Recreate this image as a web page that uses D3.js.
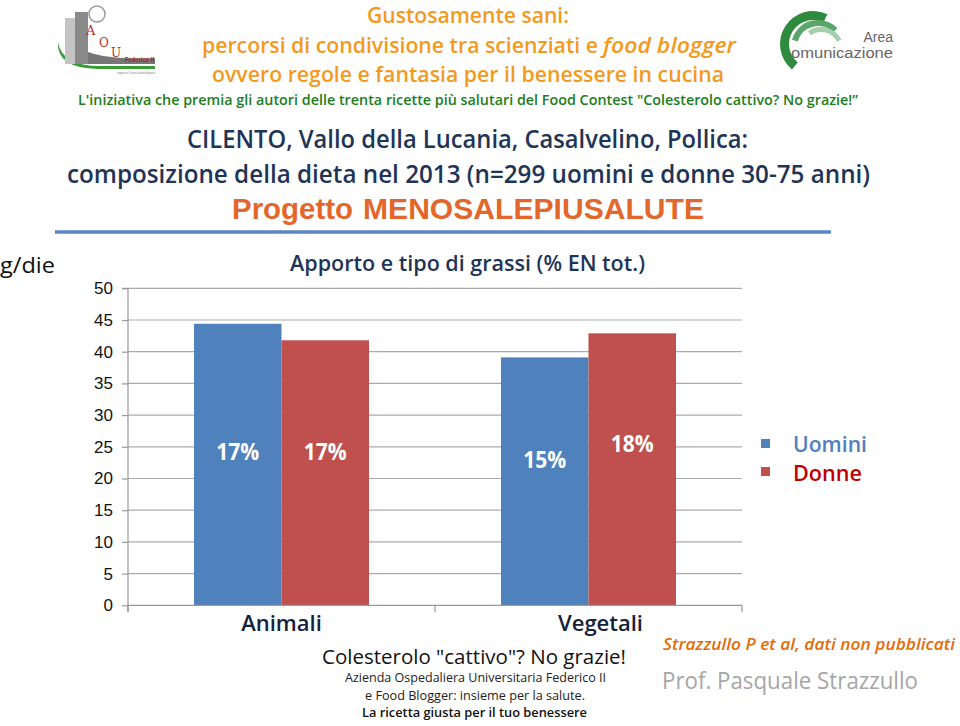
<!DOCTYPE html>
<html><head><meta charset="utf-8">
<script src="https://cdn.jsdelivr.net/npm/d3@7/dist/d3.min.js"></script>
<style>body{margin:0;background:#fff}svg{display:block}</style>
</head><body>
<svg id="c" width="960" height="726"></svg>
<script>
// ---- data ----
const categories = ["Animali", "Vegetali"];
const seriesNames = ["Uomini", "Donne"];
const uomini = [44.4, 39.1];
const donne = [41.8, 42.9];
const pctUomini = ["17%", "15%"];
const pctDonne = ["17%", "18%"];
const yTicks = [0, 5, 10, 15, 20, 25, 30, 35, 40, 45, 50];

const svg = d3.select("#c");
const cal = "'Open Sans', 'Noto Sans', sans-serif";
const arial = "'Liberation Sans', Arial, sans-serif";

function txt(x, y, s, o) {
  const t = svg.append("text")
    .attr("x", x).attr("y", y).text(s)
    .attr("font-family", o.font || cal)
    .attr("font-size", o.size)
    .attr("font-weight", o.weight || "normal")
    .attr("font-style", o.style || "normal")
    .attr("fill", o.fill || "#000")
    .attr("dominant-baseline", "central");
  if (o.w) t.attr("textLength", o.w).attr("lengthAdjust", "spacingAndGlyphs");
  if (o.anchor) t.attr("text-anchor", o.anchor);
  return t;
}

// ---- header ----
const orange = "#f39a1e";
txt(367, 15, "Gustosamente sani:", {size: 21, weight: 600, fill: orange, w: 202});
txt(202, 45, "percorsi di condivisione tra scienziati e ", {size: 21, weight: 600, fill: orange, w: 396});
txt(603, 45, "food blogger", {size: 21, weight: 600, style: "italic", fill: orange, w: 133});
txt(212, 74, "ovvero regole e fantasia per il benessere in cucina", {size: 21, weight: 600, fill: orange, w: 512});
txt(78, 99, "L'iniziativa che premia gli autori delle trenta ricette più salutari del Food Contest \"Colesterolo cattivo? No grazie!\u201D", {size: 14.5, weight: 600, fill: "#1e7d1e", w: 780});

// left logo (simplified)
const lg = svg.append("g");
lg.append("path").attr("d", "M58,42 Q62,66 100,66 L155,66 L155,69 L98,69 Q56,68 58,42 Z").attr("fill", "#3a9a3a");
lg.append("rect").attr("x", 65).attr("y", 18).attr("width", 10).attr("height", 46).attr("fill", "#c4c4c4");
lg.append("rect").attr("x", 75).attr("y", 12).attr("width", 13).attr("height", 52).attr("fill", "#8a8a8a");
lg.append("path").attr("d", "M88,52 Q110,60 155,58 L155,64 L88,64 Z").attr("fill", "#777");
lg.append("circle").attr("cx", 97).attr("cy", 14).attr("r", 8).attr("fill", "none").attr("stroke", "#999").attr("stroke-width", 1.5);
txt(86, 30, "A", {size: 13, fill: "#b03030", font: "'DejaVu Serif', serif"});
txt(99, 43, "O", {size: 12, fill: "#b03030", font: "'DejaVu Serif', serif"});
txt(111, 53, "U", {size: 12, fill: "#b03030", font: "'DejaVu Serif', serif"});
txt(125, 59, "Federico II", {size: 8, weight: "bold", fill: "#a02828", font: arial, w: 29});
txt(117, 73, "Integrata con il Servizio Sanitario Regionale", {size: 3, fill: "#777", font: arial, w: 38});

// right logo (simplified)
const arcG = d3.arc();
const rg = svg.append("g").attr("transform", "translate(813,44)");
rg.append("path").attr("d", arcG({innerRadius: 24, outerRadius: 33, startAngle: -2.45, endAngle: 0.45})).attr("fill", "#2e8b3e");
rg.append("path").attr("transform", "translate(5,3)").attr("d", arcG({innerRadius: 21, outerRadius: 27, startAngle: -1.3, endAngle: 0.8})).attr("fill", "#5aa66a");
rg.append("path").attr("transform", "translate(8,6)").attr("d", arcG({innerRadius: 18, outerRadius: 23, startAngle: -0.6, endAngle: 1.1})).attr("fill", "#a4cfac");
txt(893, 37, "Area", {size: 14, fill: "#666", font: arial, anchor: "end"});
txt(791, 53, "omunicazione", {size: 14, fill: "#666", font: arial, w: 102});

// ---- titles ----
const navy = "#1f3557";
txt(187, 138, "CILENTO, Vallo della Lucania, Casalvelino, Pollica:", {size: 26, weight: 600, fill: navy, w: 561});
txt(67, 173, "composizione della dieta nel 2013  (n=299 uomini e donne 30-75 anni)", {size: 26, weight: 600, fill: navy, w: 803});
txt(232, 208, "Progetto", {size: 30, weight: "bold", fill: "#e3672a", font: arial, w: 121});
txt(363, 208, "MENOSALEPIUSALUTE", {size: 30, weight: "bold", fill: "#e3672a", font: arial, w: 341});
svg.append("line").attr("x1", 55).attr("x2", 831).attr("y1", 232).attr("y2", 232)
  .attr("stroke", "#5b86c0").attr("stroke-width", 3.5);

txt(0, 264, "g/die", {size: 22, fill: "#111", w: 55});
txt(290, 263, "Apporto e tipo di grassi (% EN tot.)", {size: 21, weight: 600, fill: navy, w: 355});

// ---- chart ----
const x0 = d3.scaleBand().domain(categories).range([128, 742]).paddingInner(0).paddingOuter(0);
const x1 = d3.scaleBand().domain(seriesNames).range([0, x0.bandwidth()]).paddingInner(0).paddingOuter(0.754);
const y = d3.scaleLinear().domain([0, 50]).range([605.3, 288.3]);
const colors = {Uomini: "#4f81bd", Donne: "#c0504d"};

// gridlines
svg.append("g").selectAll("line").data(yTicks.filter(d => d > 0)).join("line")
  .attr("x1", 128).attr("x2", 742).attr("y1", d => y(d)).attr("y2", d => y(d))
  .attr("stroke", "#ababab").attr("stroke-width", 1.2);

// y axis
const yAxis = d3.axisLeft(y).tickValues(yTicks).tickSize(6).tickPadding(9);
const ya = svg.append("g").attr("transform", "translate(128,0)").call(yAxis);
ya.select(".domain").attr("stroke", "#999").attr("stroke-width", 1.2).attr("d", "M-6,288.3H0V612");
ya.selectAll(".tick line").attr("stroke", "#999").attr("stroke-width", 1.2);
ya.selectAll(".tick text").attr("font-family", arial).attr("font-size", 17).attr("fill", "#111");

// bars
const rows = categories.map((c, i) => ({cat: c, vals: [
  {s: "Uomini", v: uomini[i], p: pctUomini[i]},
  {s: "Donne", v: donne[i], p: pctDonne[i]}]}));
const grp = svg.append("g").selectAll("g").data(rows).join("g")
  .attr("transform", d => `translate(${x0(d.cat)},0)`);
grp.selectAll("rect").data(d => d.vals).join("rect")
  .attr("x", d => x1(d.s)).attr("width", x1.bandwidth())
  .attr("y", d => y(d.v)).attr("height", d => y(0) - y(d.v))
  .attr("fill", d => colors[d.s]);

// x axis line + ticks
const xa = svg.append("g").attr("transform", "translate(0,605.3)");
xa.append("line").attr("x1", 128).attr("x2", 742).attr("stroke", "#999").attr("stroke-width", 1.2);
xa.selectAll("line.t").data([...categories.map(c => x0(c)), 742]).join("line").attr("class", "t")
  .attr("x1", d => d).attr("x2", d => d).attr("y1", 0).attr("y2", 7)
  .attr("stroke", "#999").attr("stroke-width", 1.2);
// category labels
const catOff = {Animali: 0, Vegetali: 12};
categories.forEach(c => {
  txt(x0(c) + x0.bandwidth() / 2 + catOff[c], 622, c, {size: 22, weight: 600, fill: "#14223b", anchor: "middle"});
});

// in-bar percentage labels (manual vertical placement as in reference)
const labelY = {"Animali-Uomini": 451, "Animali-Donne": 451, "Vegetali-Uomini": 459, "Vegetali-Donne": 443};
rows.forEach(r => r.vals.forEach(d => {
  txt(x0(r.cat) + x1(d.s) + x1.bandwidth() / 2 - 21.5, labelY[r.cat + "-" + d.s], d.p,
    {size: 23, weight: 700, fill: "#fff", w: 43});
}));

// legend
const leg = svg.append("g");
seriesNames.forEach((s, i) => {
  leg.append("rect").attr("x", 761).attr("y", 439 + i * 28).attr("width", 9).attr("height", 9).attr("fill", colors[s]);
  txt(793, 444 + i * 29, s, {size: 21, weight: 600, fill: i ? "#c00000" : "#4f81bd", w: i ? 69 : 74});
});

// ---- footer ----
txt(663, 643, "Strazzullo P et al, dati non pubblicati", {size: 17, weight: 600, style: "italic", fill: "#e46c0a", w: 292});
txt(662, 679, "Prof. Pasquale Strazzullo", {size: 24, fill: "#a6a6a6", w: 256});
txt(322, 656, "Colesterolo \"cattivo\"? No grazie!", {size: 20, fill: "#111", w: 304});
txt(345, 677, "Azienda Ospedaliera Universitaria Federico II", {size: 12, fill: "#222", w: 261});
txt(365, 695, "e Food Blogger: insieme per la salute.", {size: 12, fill: "#222", w: 220});
txt(362, 712, "La ricetta giusta per il tuo benessere", {size: 12, weight: 600, fill: "#111", w: 225});
</script>
</body></html>
